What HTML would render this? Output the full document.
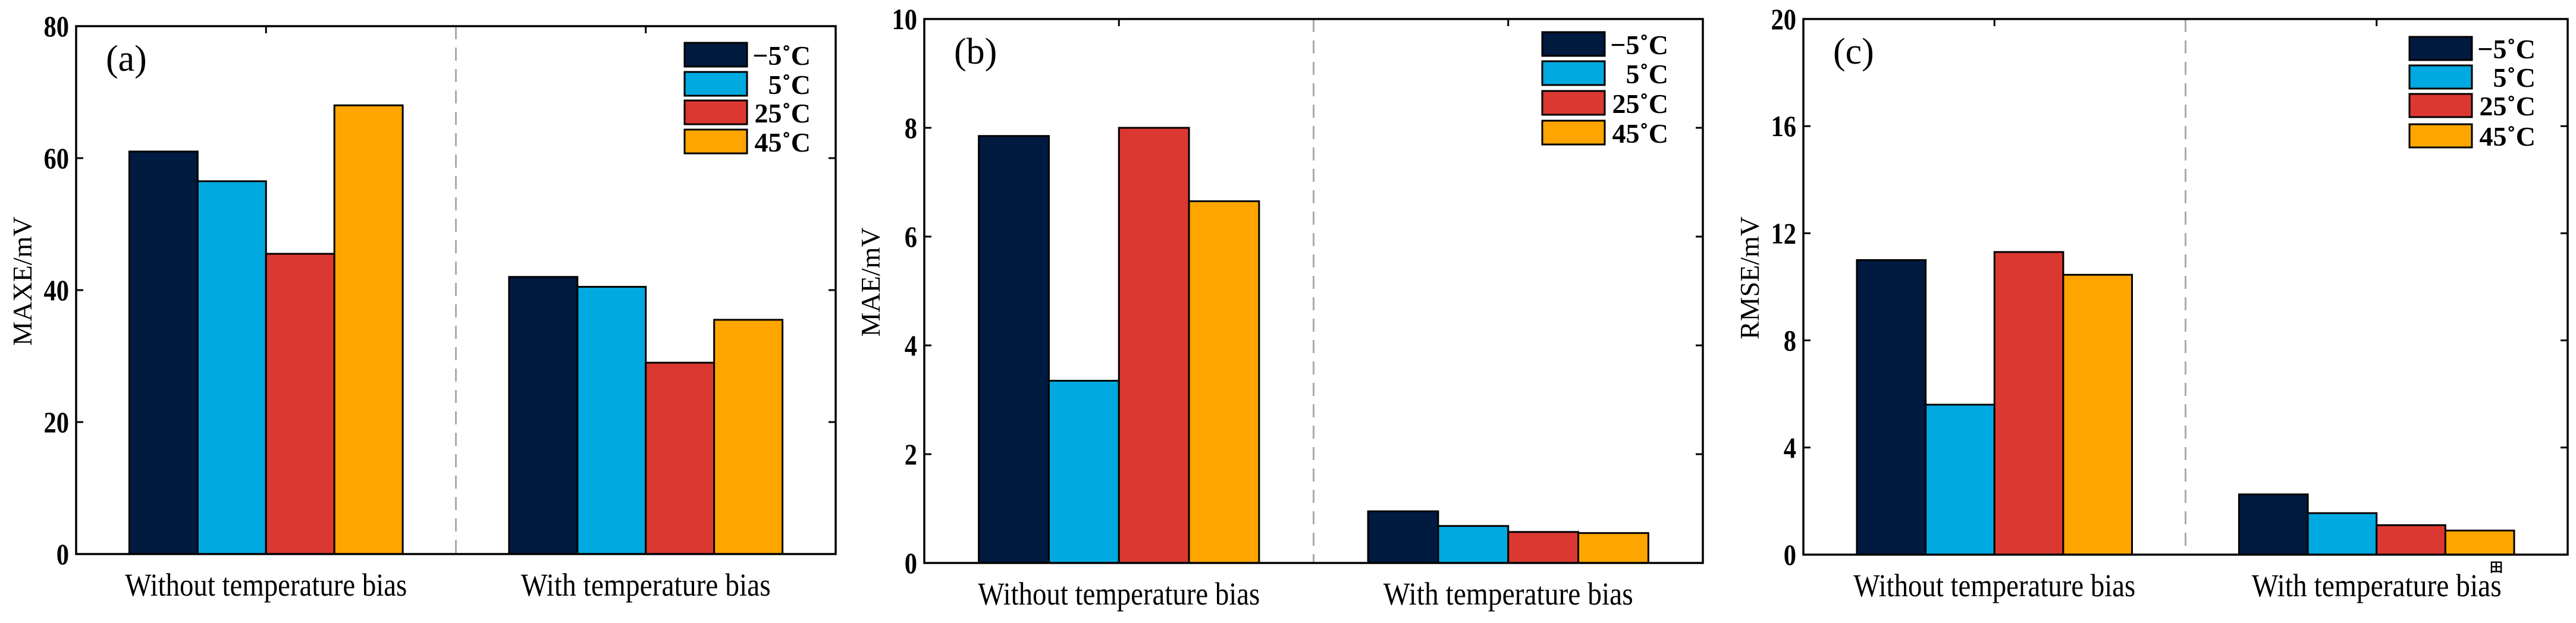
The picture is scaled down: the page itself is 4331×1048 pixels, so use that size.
<!DOCTYPE html>
<html><head><meta charset="utf-8"><style>
html,body{margin:0;padding:0;background:#fff;}
svg{display:block;}
text{font-family:"Liberation Serif",serif;fill:#000;}
</style></head><body>
<svg id="fig" width="4331" height="1048" viewBox="0 0 4331 1048" xmlns="http://www.w3.org/2000/svg"></svg>
<script>
const categories = ["Without temperature bias", "With temperature bias"];
const seriesNames = ["\u22125\u02DAC", "5\u02DAC", "25\u02DAC", "45\u02DAC"];
const seriesColors = ["#001a40", "#00a9e0", "#db3832", "#ffa500"];
const maxeValues = [[61, 56.5, 45.5, 68], [42, 40.5, 29, 35.5]];
const maeValues = [[7.85, 3.35, 8.0, 6.65], [0.95, 0.68, 0.57, 0.55]];
const rmseValues = [[11.0, 5.6, 11.3, 10.45], [2.25, 1.55, 1.1, 0.9]];
const maxeTicks = [0, 20, 40, 60, 80];
const maeTicks = [0, 2, 4, 6, 8, 10];
const rmseTicks = [0, 4, 8, 12, 16, 20];

const NS = "http://www.w3.org/2000/svg";
const svg = document.getElementById("fig");
function mk(tag, attrs, parent) {
  const e = document.createElementNS(NS, tag);
  for (const k in attrs) e.setAttribute(k, attrs[k]);
  (parent || svg).appendChild(e);
  return e;
}

const panels = [
  {key:"a", label:"(a)", title:"MAXE/mV", values:maxeValues, ticks:maxeTicks, L:128, R:1405, T:44, B:932, legX:1151, legY:[72,121,169,218], legH:40},
  {key:"b", label:"(b)", title:"MAE/mV", values:maeValues, ticks:maeTicks, L:1554, R:2863, T:32, B:947, legX:2593, legY:[54,103,153,203], legH:40},
  {key:"c", label:"(c)", title:"RMSE/mV", values:rmseValues, ticks:rmseTicks, L:3032, R:4317, T:32, B:933, legX:4051, legY:[62,110,158,209], legH:39}
];

panels.forEach(p => {
  const g = mk("g", {});
  
  
  const ymax = p.ticks[p.ticks.length - 1];
  const y = v => p.B - (p.B - p.T) * v / ymax;
  const x = u => p.L + (p.R - p.L) * (u - 0.5) / 2; // x-limits 0.5..2.5
  const bw = 0.18;

  const d = mk("line", {x1:x(1.5), x2:x(1.5), y1:p.T, y2:p.B, stroke:"#aaa", "stroke-width":3, "stroke-dasharray":"22,14"}, g);
  
  

  p.values.forEach((grp, gi) => {
    grp.forEach((v, si) => {
      const x0 = x(gi + 1 - 2 * bw + si * bw);
      const x1 = x(gi + 1 - 2 * bw + (si + 1) * bw);
      const r = mk("rect", {x:x0, y:y(v), width:x1 - x0, height:p.B - y(v), fill:seriesColors[si], stroke:"#000", "stroke-width":3}, g);
      
      
    });
    const t = mk("text", {x:x(gi + 1), y:p.B + 70, "text-anchor":"middle", "font-size":54, textLength:(gi === 0 ? 474 : 420), lengthAdjust:"spacingAndGlyphs"}, g);
    t.textContent = categories[gi];
    
    
    mk("line", {x1:x(gi + 1), x2:x(gi + 1), y1:p.T, y2:p.T + 12, stroke:"#000", "stroke-width":3}, g);
  });

  const box = mk("rect", {x:p.L, y:p.T, width:p.R - p.L, height:p.B - p.T, fill:"none", stroke:"#000", "stroke-width":3.5}, g);
  
  

  p.ticks.forEach(tv => {
    mk("line", {x1:p.L, x2:p.L + 12, y1:y(tv), y2:y(tv), stroke:"#000", "stroke-width":3}, g);
    mk("line", {x1:p.R - 12, x2:p.R, y1:y(tv), y2:y(tv), stroke:"#000", "stroke-width":3}, g);
    const t = mk("text", {x:p.L - 12, y:y(tv) + 17, "text-anchor":"end", "font-size":50, "font-weight":"bold", transform:"translate(" + (p.L - 12) + ",0) scale(0.85,1) translate(" + (-(p.L - 12)) + ",0)"}, g);
    t.textContent = tv;
    
    
  });

  const cy = (p.T + p.B) / 2 - 15;
  const yt = mk("text", {x:0, y:0, "text-anchor":"middle", "font-size":46, transform:"translate(" + (p.L - 75) + "," + cy + ") rotate(-90)"}, g);
  yt.textContent = p.title;
  
  

  const pl = mk("text", {x:p.L + 50, y:p.T + 75, "font-size":62}, g);
  pl.textContent = p.label;
  
  

  seriesNames.forEach((nm, si) => {
    const ly = p.legY[si];
    const r = mk("rect", {x:p.legX, y:ly, width:105, height:p.legH, fill:seriesColors[si], stroke:"#000", "stroke-width":3}, g);
    
    
    const t = mk("text", {x:p.legX + 212, y:ly + p.legH - 3, "text-anchor":"end", "font-size":46, "font-weight":"bold"}, g);
    t.textContent = nm;
    
    
  });
});

const sg = mk("text", {x:4186, y:962, "font-size":22, "font-weight":"bold"});
sg.textContent = "\u7530";


</script>
</body></html>
